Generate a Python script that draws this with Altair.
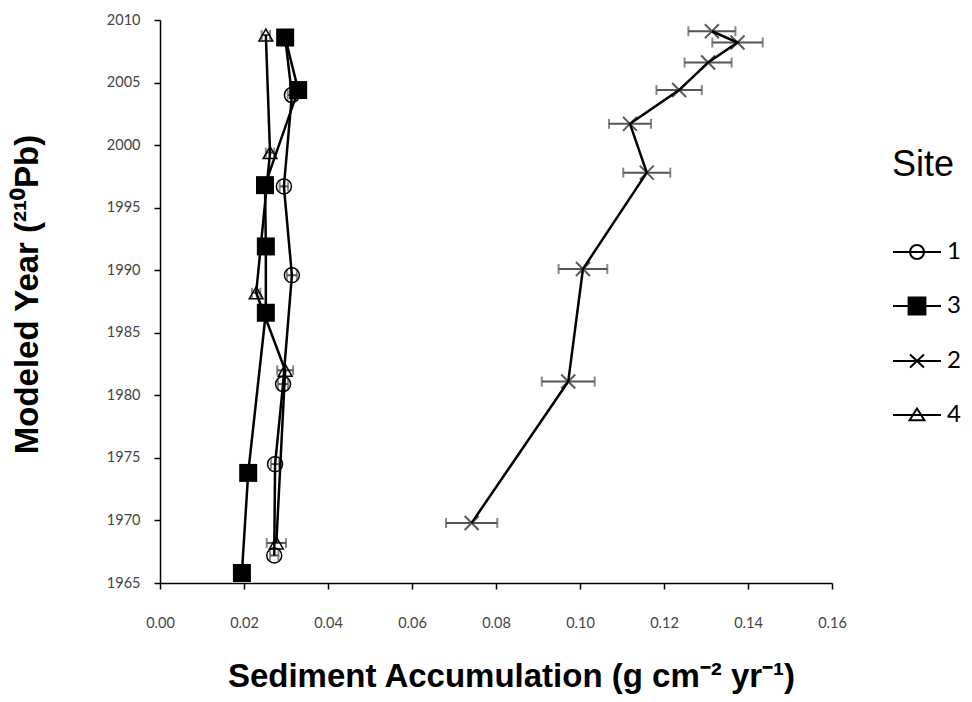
import altair as alt
import pandas as pd

# ---- data ----
site_order = ["1", "3", "2", "4"]

site1_year = [2008.6, 2004.0, 1996.7, 1989.6, 1980.9, 1974.5, 1967.2]
site1_acc = [0.0298, 0.0314, 0.0295, 0.0314, 0.0293, 0.0274, 0.0272]
site1_err = [0.0010, 0.0010, 0.0010, 0.0012, 0.0012, 0.0010, 0.0010]

site3_year = [2008.6, 2004.4, 1996.8, 1991.9, 1986.6, 1973.8, 1965.8]
site3_acc = [0.0298, 0.0329, 0.0250, 0.0252, 0.0252, 0.0210, 0.0195]
site3_err = [0.0010, 0.0010, 0.0010, 0.0010, 0.0010, 0.0010, 0.0010]

site2_year = [2009.1, 2008.2, 2006.6, 2004.4, 2001.7, 1997.8, 1990.1, 1981.1, 1969.8]
site2_acc = [0.1314, 0.1375, 0.1305, 0.1236, 0.1119, 0.1159, 0.1007, 0.0972, 0.0742]
site2_err = [0.0056, 0.0060, 0.0056, 0.0054, 0.0050, 0.0056, 0.0058, 0.0063, 0.0061]

site4_year = [2008.8, 1999.4, 1988.2, 1982.0, 1968.2]
site4_acc = [0.0252, 0.0262, 0.0229, 0.0298, 0.0277]
site4_err = [0.0010, 0.0010, 0.0010, 0.0019, 0.0023]

x_ticks = [0.00, 0.02, 0.04, 0.06, 0.08, 0.10, 0.12, 0.14, 0.16]
y_ticks = [1965, 1970, 1975, 1980, 1985, 1990, 1995, 2000, 2005, 2010]

# ---- build table ----
rows = []
for s, yrs, acc, err in [("1", site1_year, site1_acc, site1_err),
                         ("3", site3_year, site3_acc, site3_err),
                         ("2", site2_year, site2_acc, site2_err),
                         ("4", site4_year, site4_acc, site4_err)]:
    for y, a, e in zip(yrs, acc, err):
        rows.append({"Site": s, "year": y, "acc": a, "lo": a - e, "hi": a + e})
df = pd.DataFrame(rows)

x_scale = alt.Scale(domain=[0, 0.16], nice=False, zero=False)
y_scale = alt.Scale(domain=[1965, 2010], nice=False, zero=False)

x_enc = alt.X(
    "acc:Q", scale=x_scale,
    axis=alt.Axis(values=x_ticks, format=".2f", labelFlush=False,
                  title="Sediment Accumulation (g cm\u207b\u00b2 yr\u207b\u00b9)",
                  labelPadding=27, titlePadding=31, titleX=351),
)
y_enc = alt.Y(
    "year:Q", scale=y_scale,
    axis=alt.Axis(values=y_ticks, format="d", labelFlush=False,
                  title="Modeled Year (\u00b2\u00b9\u2070Pb)",
                  labelPadding=14, titlePadding=62, titleY=274),
)

base = alt.Chart(df)

err_color = "#555555"
err_rule = base.mark_rule(color=err_color, strokeWidth=2).encode(
    x=alt.X("lo:Q", scale=x_scale), x2="hi:Q", y=alt.Y("year:Q", scale=y_scale)
)
cap_lo = base.mark_tick(orient="vertical", size=10, thickness=2, color=err_color).encode(
    x=alt.X("lo:Q", scale=x_scale), y=alt.Y("year:Q", scale=y_scale)
)
cap_hi = base.mark_tick(orient="vertical", size=10, thickness=2, color=err_color).encode(
    x=alt.X("hi:Q", scale=x_scale), y=alt.Y("year:Q", scale=y_scale)
)

marker_style = {
    "1": dict(shape="circle", size=225, filled=False, color="black", strokeWidth=1.5, opacity=1),
    "3": dict(shape="square", size=324, filled=True, color="black", opacity=1),
    "2": dict(shape="M-1,-1L1,1M-1,1L1,-1", size=196, filled=False, color="#5a5a5a", strokeWidth=2, opacity=1),
    "4": dict(shape="triangle-up", size=190, filled=False, color="black", strokeWidth=1.5, opacity=1),
}
point_layers = []
for s in site_order:
    point_layers.append(
        base.transform_filter(alt.datum.Site == s)
        .mark_point(**marker_style[s])
        .encode(x=x_enc, y=y_enc)
    )

lines = base.mark_line(color="black", strokeWidth=2.5).encode(
    x=x_enc, y=y_enc, detail="Site:N", order="year:Q"
)

# legend symbols: connecting line + marker (square drawn solid with a tight zigzag stroke)
zig = "M-0.35,-0.35H0.35V0.35H-0.35Z"
ys = [-0.35 + i * 0.07 for i in range(11)]
for i, yv in enumerate(ys):
    x0, x1 = (-0.35, 0.35) if i % 2 == 0 else (0.35, -0.35)
    zig += f"M{x0:.2f},{yv:.3f}L{x1:.2f},{yv:.3f}"
legend_paths = [
    "M-1,0L-0.29,0M0.29,0L1,0M-0.29,0A0.29,0.29 0 1,1 0.29,0A0.29,0.29 0 1,1 -0.29,0M-0.29,0L0.29,0",
    "M-1,0L1,0" + zig,
    "M-1,0L1,0M-0.29,-0.27L0.29,0.27M-0.29,0.27L0.29,-0.27",
    "M-1,0L1,0M0,-0.27L0.31,0.22L-0.31,0.22Z",
]
leg = alt.Legend(
    orient="none", legendX=732, legendY=128, title="Site",
    titleFont="Liberation Sans", titleFontSize=36, titleFontWeight="normal", titleColor="black",
    titlePadding=43, labelFont="Lato", labelFontSize=24, labelColor="black",
    symbolSize=2304, symbolStrokeWidth=2, symbolStrokeColor="black",
    labelOffset=5, rowPadding=17,
)
legend_layer = alt.Chart(pd.DataFrame({"Site": site_order})).transform_filter("false").mark_point(
    filled=False, color="black", strokeWidth=2, opacity=1
).encode(
    shape=alt.Shape("Site:N", scale=alt.Scale(domain=site_order, range=legend_paths), legend=leg),
)

chart = alt.layer(err_rule, cap_lo, cap_hi, *point_layers, lines, legend_layer).properties(
    width=672, height=563,
    autosize="none",
    padding={"left": 152, "top": 12, "right": 132, "bottom": 111},
).configure(background="white").configure_view(stroke=None).configure_axis(
    grid=False, domainColor="black", domainWidth=1.5, tickColor="black", tickWidth=1.5,
    tickSize=6, labelFont="Lato", labelFontSize=14.5, labelColor="#444444",
    titleFont="Liberation Sans", titleFontSize=33, titleFontWeight="bold", titleColor="black",
)

chart.save("out.html", embed_options={"renderer": "svg", "actions": False})
